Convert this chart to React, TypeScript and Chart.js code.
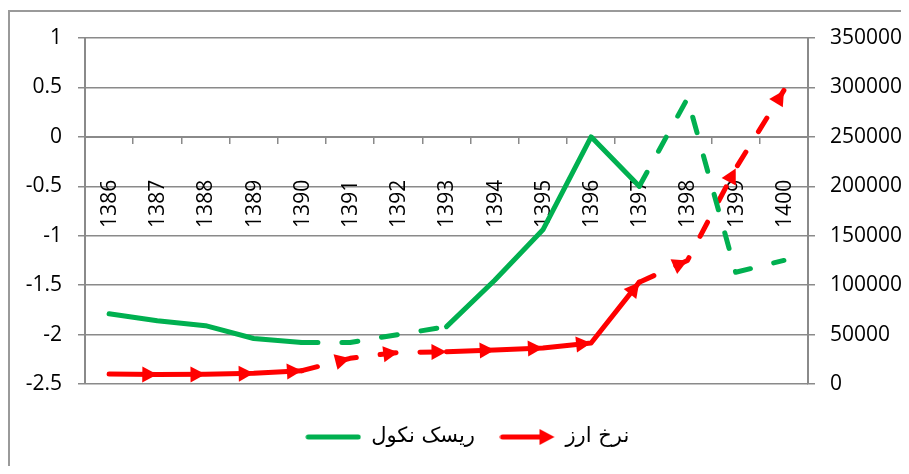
import React, { useEffect, useRef } from "react";
import { Chart, registerables } from "chart.js";

Chart.register(...registerables);

const categories = ["1386", "1387", "1388", "1389", "1390", "1391", "1392", "1393", "1394", "1395", "1396", "1397", "1398", "1399", "1400"];
const defaultRisk = [-1.79, -1.86, -1.91, -2.04, -2.08, -2.08, -2.0, -1.92, -1.45, -0.94, 0, -0.5, 0.39, -1.37, -1.25];
const exchangeRate = [10000, 9500, 9800, 10800, 13500, 26000, 32000, 32500, 34500, 36500, 41500, 103000, 125000, 218000, 297000];
const leftTicks = [-2.5, -2, -1.5, -1, -0.5, 0, 0.5, 1];
const rightTicks = [0, 50000, 100000, 150000, 200000, 250000, 300000, 350000];
const seriesNames = ["ریسک نکول", "نرخ ارز"];

const GREEN = "#00B050";
const RED = "#FF0000";
const GRID = "#8a8a8a";

function isDashed(i0: number) {
  return (i0 >= 4 && i0 < 7) || i0 >= 11;
}

function makeGreenIcon() {
  const c = document.createElement("canvas");
  c.width = 56;
  c.height = 10;
  const g = c.getContext("2d")!;
  g.strokeStyle = GREEN;
  g.lineWidth = 5;
  g.lineCap = "round";
  g.beginPath();
  g.moveTo(3, 5);
  g.lineTo(53, 5);
  g.stroke();
  return c;
}

function makeRedIcon() {
  const c = document.createElement("canvas");
  c.width = 56;
  c.height = 18;
  const g = c.getContext("2d")!;
  g.strokeStyle = RED;
  g.fillStyle = RED;
  g.lineWidth = 5;
  g.lineCap = "round";
  g.beginPath();
  g.moveTo(3, 9);
  g.lineTo(44, 9);
  g.stroke();
  g.beginPath();
  g.moveTo(55, 9);
  g.lineTo(40, 1);
  g.lineTo(40, 17);
  g.closePath();
  g.fill();
  return c;
}

const arrowPlugin = {
  id: "arrowMarkers",
  afterDatasetsDraw(chart: any) {
    const meta = chart.getDatasetMeta(1);
    const pts = meta.data;
    const ctx = chart.ctx;
    ctx.save();
    ctx.fillStyle = RED;
    for (let i = 1; i < pts.length; i++) {
      const p0 = pts[i - 1];
      const p1 = pts[i];
      const a = Math.atan2(p1.y - p0.y, p1.x - p0.x);
      ctx.save();
      ctx.translate(p1.x, p1.y);
      ctx.rotate(a);
      ctx.beginPath();
      ctx.moveTo(0, 0);
      ctx.lineTo(-15, -8);
      ctx.lineTo(-15, 8);
      ctx.closePath();
      ctx.fill();
      ctx.restore();
    }
    ctx.restore();
  },
};

export default function App() {
  const ref = useRef<HTMLCanvasElement | null>(null);

  useEffect(() => {
    if (!ref.current) return;
    const greenIcon = makeGreenIcon();
    const redIcon = makeRedIcon();
    const tickFont = { family: "'Open Sans', sans-serif", size: 21 };
    const dash = [16, 24];
    const chart = new Chart(ref.current, {
      type: "line",
      data: {
        labels: categories,
        datasets: [
          {
            label: seriesNames[0],
            data: defaultRisk,
            yAxisID: "y",
            borderColor: GREEN,
            backgroundColor: GREEN,
            borderWidth: 5,
            borderCapStyle: "round",
            borderJoinStyle: "round",
            pointRadius: 0,
            tension: 0,
            segment: {
              borderDash: (c: any) => (isDashed(c.p0DataIndex) ? dash : undefined),
            },
          },
          {
            label: seriesNames[1],
            data: exchangeRate,
            yAxisID: "y2",
            borderColor: RED,
            backgroundColor: RED,
            borderWidth: 5,
            borderCapStyle: "round",
            borderJoinStyle: "round",
            pointRadius: 0,
            tension: 0,
            segment: {
              borderDash: (c: any) => (isDashed(c.p0DataIndex) ? dash : undefined),
            },
          },
        ],
      },
      options: {
        animation: false,
        responsive: false,
        layout: { padding: { left: 18, right: 0, top: 30, bottom: 8.5 } },
        scales: {
          x: {
            type: "category",
            position: { y: 0 } as any,
            offset: true,
            grid: {
              display: true,
              drawOnChartArea: false,
              drawTicks: true,
              tickLength: 6,
              offset: true,
              color: GRID,
              lineWidth: 1.5,
            },
            border: { display: true, color: GRID, width: 2 },
            ticks: {
              autoSkip: false,
              maxRotation: 90,
              minRotation: 90,
              padding: 37,
              labelOffset: 1,
              color: "#000",
              font: tickFont,
            },
          },
          y: {
            type: "linear",
            position: "left",
            min: -2.5,
            max: 1,
            afterBuildTicks: (s: any) => {
              s.ticks = leftTicks.map((v) => ({ value: v }));
            },
            afterFit: (s: any) => {
              s.width = 59;
            },
            grid: { color: GRID, lineWidth: 1.5, drawTicks: true, tickLength: 7 },
            border: { display: true, color: GRID, width: 2 },
            ticks: {
              padding: 16,
              color: "#000",
              font: tickFont,
              callback: (v: any) => String(v),
            },
          },
          y2: {
            type: "linear",
            position: "right",
            min: 0,
            max: 350000,
            afterBuildTicks: (s: any) => {
              s.ticks = rightTicks.map((v) => ({ value: v }));
            },
            afterFit: (s: any) => {
              s.width = 101;
            },
            grid: { drawOnChartArea: false, color: GRID, lineWidth: 1.5, drawTicks: true, tickLength: 7 },
            border: { display: true, color: GRID, width: 2 },
            ticks: {
              padding: 15,
              color: "#000",
              font: tickFont,
              callback: (v: any) => String(v),
            },
          },
        },
        plugins: {
          tooltip: { enabled: false },
          legend: {
            display: true,
            position: "bottom",
            title: { display: true, text: "", padding: { top: 5.5, bottom: 0 }, font: { size: 10 } },
            labels: {
              usePointStyle: true,
              pointStyleWidth: 55,
              padding: 25,
              color: "#000",
              font: { family: "'DejaVu Sans', serif", size: 21 },
              generateLabels: () => [
                {
                  text: seriesNames[0],
                  pointStyle: greenIcon as any,
                  fillStyle: "transparent",
                  strokeStyle: "transparent",
                  lineWidth: 0,
                  hidden: false,
                  datasetIndex: 0,
                  fontColor: "#000",
                },
                {
                  text: seriesNames[1],
                  pointStyle: redIcon as any,
                  fillStyle: "transparent",
                  strokeStyle: "transparent",
                  lineWidth: 0,
                  hidden: false,
                  datasetIndex: 1,
                  fontColor: "#000",
                },
              ],
            },
          },
        },
      } as any,
      plugins: [arrowPlugin],
    });
    return () => chart.destroy();
  }, []);

  return (
    <div style={{ position: "relative", width: 901, height: 458, overflow: "hidden" }}>
      <div
        style={{
          position: "absolute",
          left: 0,
          top: 2,
          width: 1200,
          height: 1200,
          borderLeft: "2px solid #9a9a9a",
          borderTop: "2px solid #9a9a9a",
        }}
      />
      <canvas ref={ref} width={901} height={458} style={{ position: "absolute", left: 0, top: 0 }} />
    </div>
  );
}
